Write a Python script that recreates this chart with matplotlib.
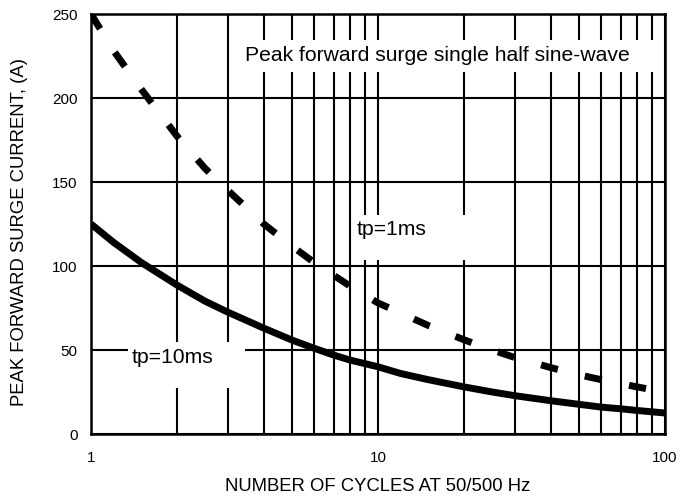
import matplotlib
matplotlib.use("Agg")
import matplotlib.pyplot as plt
import matplotlib.ticker as mtick
from matplotlib.patches import Rectangle

# values
cycles = [1, 1.2, 1.5, 2, 2.5, 3, 4, 5, 6, 7, 8, 10, 12, 15, 20, 25, 30, 40, 50, 60, 70, 80, 100]
surge_10ms = [125, 114, 102, 88.5, 79, 72.5, 63, 56, 51, 47, 44, 40, 36, 32.3, 28, 25,
              22.8, 19.8, 17.7, 16, 15, 14, 12.5]
surge_1ms = [250, 228, 205, 177, 158, 145, 125, 112, 102, 94.5, 88, 78, 72, 64.5, 56, 50,
             45.5, 39.5, 35.3, 32.3, 30, 28, 25]

y_ticks = [0, 50, 100, 150, 200, 250]
x_ticks = [1, 10, 100]

BLACK = "#000000"
WHITE = "#FFFFFF"

plt.rcParams.update({
    "font.family": ["Liberation Sans", "DejaVu Sans"],
    "axes.edgecolor": BLACK,
    "text.color": BLACK,
})

fig = plt.figure(figsize=(6.96, 5.03), dpi=100)
ax = fig.add_axes([91 / 696, 69 / 503, 574 / 696, 420 / 503])

ax.set_xscale("log")
ax.set_xlim(1, 100)
ax.set_ylim(0, 250)
ax.set_yticks(y_ticks)
ax.set_xticks(x_ticks)
ax.xaxis.set_major_formatter(mtick.FuncFormatter(lambda v, _: f"{v:g}"))
ax.xaxis.set_minor_locator(mtick.LogLocator(base=10, subs=range(2, 10)))
ax.xaxis.set_minor_formatter(mtick.NullFormatter())

ax.grid(True, which="both", axis="x", color=BLACK, linewidth=1.5)
ax.grid(True, which="major", axis="y", color=BLACK, linewidth=1.5)
ax.set_axisbelow(True)
for sp in ax.spines.values():
    sp.set_linewidth(1.8)

ax.tick_params(axis="both", which="both", length=0, labelsize=11)
ax.tick_params(axis="y", pad=9.5)
ax.tick_params(axis="x", pad=12)

# white label boxes that break the grid
boxes = [
    (0.256, 0.862, 0.732, 0.076),
    (0.455, 0.414, 0.24, 0.107),
    (0.0645, 0.1095, 0.2035, 0.1095),
]
for bx, by, bw, bh in boxes:
    ax.add_patch(Rectangle((bx, by), bw, bh, transform=ax.transAxes,
                           facecolor=WHITE, edgecolor="none", zorder=1.5))

ax.text(0.268, 0.902, "Peak forward surge single half sine-wave",
        transform=ax.transAxes, fontsize=15.2, va="center", ha="left", zorder=2)
ax.text(0.462, 0.488, "tp=1ms", transform=ax.transAxes,
        fontsize=15.2, va="center", ha="left", zorder=2)
ax.text(0.0714, 0.183, "tp=10ms", transform=ax.transAxes,
        fontsize=15.2, va="center", ha="left", zorder=2)

ax.plot(cycles, surge_10ms, color=BLACK, linewidth=5, solid_capstyle="butt", zorder=3)
ax.plot(cycles, surge_1ms, color=BLACK, linewidth=5, dashes=(2.5, 4),
        dash_capstyle="butt", zorder=3)

ax.set_xlabel("NUMBER OF CYCLES AT 50/500 Hz", fontsize=13.3, va="center")
ax.xaxis.set_label_coords(0.5, -0.124)
ax.set_ylabel("PEAK FORWARD SURGE CURRENT, (A)", fontsize=13.3, va="center")
ax.yaxis.set_label_coords(-0.124, 0.48)

fig.savefig("out.png", dpi=100)
